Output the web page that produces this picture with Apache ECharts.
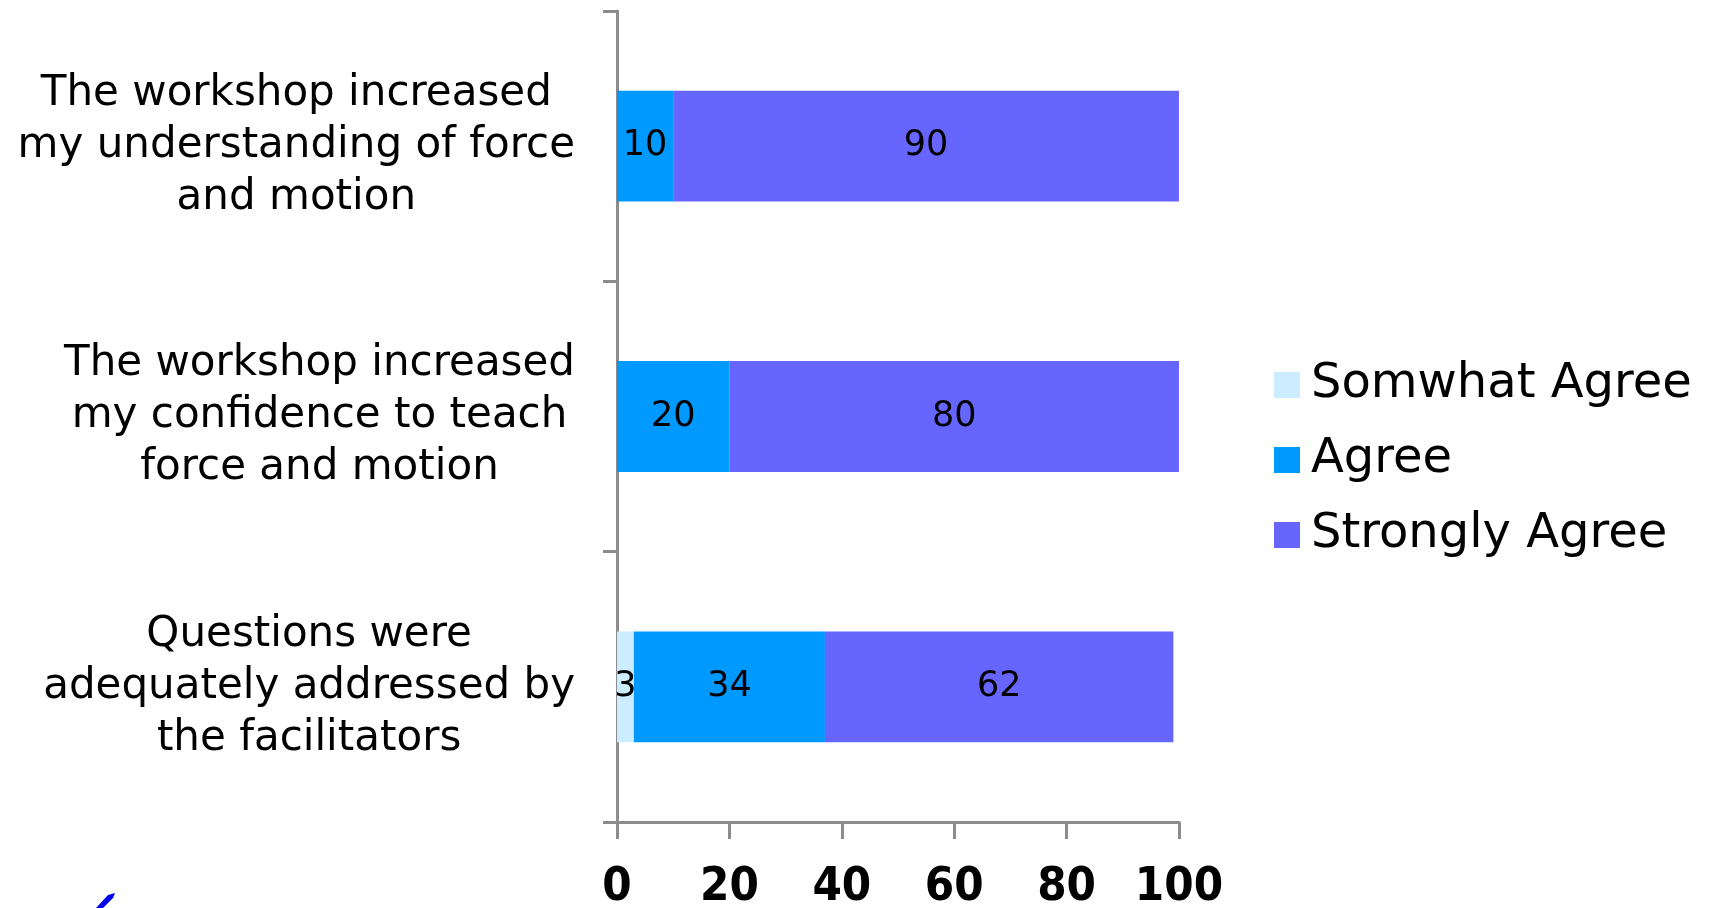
<!DOCTYPE html>
<html>
<head>
<meta charset="utf-8">
<title>Workshop survey</title>
<script src="https://cdn.jsdelivr.net/npm/echarts@6/dist/echarts.min.js"></script>
<style>
  html, body { margin: 0; padding: 0; background: #fff; }
  #chart { width: 1710px; height: 908px; }
</style>
</head>
<body>
<div id="chart"></div>
<script>
const statements = [
  'The workshop increased\nmy understanding of force\nand motion',
  'The workshop increased\nmy confidence to teach\nforce and motion',
  'Questions were\nadequately addressed by\nthe facilitators'
]
const somewhatAgree = [0, 0, 3]
const agree = [10, 20, 34]
const stronglyAgree = [90, 80, 62]
const xTicks = [0, 20, 40, 60, 80, 100]

const axisGray = '#8c8c8c'
const font = 'DejaVu Sans, Verdana, sans-serif'

const chart = echarts.init(document.getElementById('chart'))

const barLabel = {
  show: true,
  position: 'inside',
  color: '#000',
  fontFamily: font,
  fontSize: 35,
  formatter: (p) => (p.value ? p.value : '')
}

chart.setOption({
  backgroundColor: '#fff',
  animation: false,
  grid: { left: 617, right: 531, top: 11, bottom: 86, containLabel: false, outerBoundsMode: 'none' },
  legend: {
    orient: 'vertical',
    left: 1269,
    top: 356,
    itemWidth: 26,
    itemHeight: 26,
    itemGap: 27,
    icon: 'rect',
    textStyle: { color: '#000', fontFamily: font, fontSize: 48, padding: [0, 0, 0, 6] },
    data: ['Somwhat Agree', 'Agree', 'Strongly Agree']
  },
  xAxis: {
    type: 'value',
    min: xTicks[0],
    max: xTicks[xTicks.length - 1],
    interval: 20,
    splitLine: { show: false },
    axisLine: { show: true, lineStyle: { color: axisGray, width: 3 } },
    axisTick: { show: true, length: 17, lineStyle: { color: axisGray, width: 3 } },
    axisLabel: {
      margin: 42,
      color: '#000',
      fontFamily: 'DejaVu Sans Condensed, DejaVu Sans, sans-serif',
      fontWeight: 'bold',
      fontSize: 47
    }
  },
  yAxis: {
    type: 'category',
    inverse: true,
    data: statements,
    axisLine: { show: true, lineStyle: { color: axisGray, width: 3 } },
    axisTick: { show: true, length: 14, lineStyle: { color: axisGray, width: 3 } },
    axisLabel: {
      margin: 42,
      align: 'right',
      color: '#000',
      fontFamily: font,
      fontSize: 42,
      lineHeight: 52,
      formatter: (v) => v.split('\n').map((l) => '{c|' + l + '}').join('\n'),
      rich: {
        c: { align: 'center', fontFamily: font, fontSize: 42, lineHeight: 52, color: '#000' }
      }
    }
  },
  series: [
    {
      name: 'Somwhat Agree',
      type: 'bar',
      stack: 'total',
      barWidth: '41%',
      itemStyle: { color: '#CCECFF' },
      label: barLabel,
      data: somewhatAgree
    },
    {
      name: 'Agree',
      type: 'bar',
      stack: 'total',
      itemStyle: { color: '#0099FF' },
      label: barLabel,
      data: agree
    },
    {
      name: 'Strongly Agree',
      type: 'bar',
      stack: 'total',
      itemStyle: { color: '#6666FF' },
      label: barLabel,
      data: stronglyAgree
    }
  ],
  graphic: [
    {
      // stray pen glyph clipped at the bottom-left edge of the original image
      type: 'polygon',
      shape: { points: [[96, 908], [108, 895], [115, 893], [113, 898], [103, 908]] },
      style: { fill: '#0000ee' }
    }
  ]
})

window.addEventListener('resize', () => chart.resize())
</script>
</body>
</html>
